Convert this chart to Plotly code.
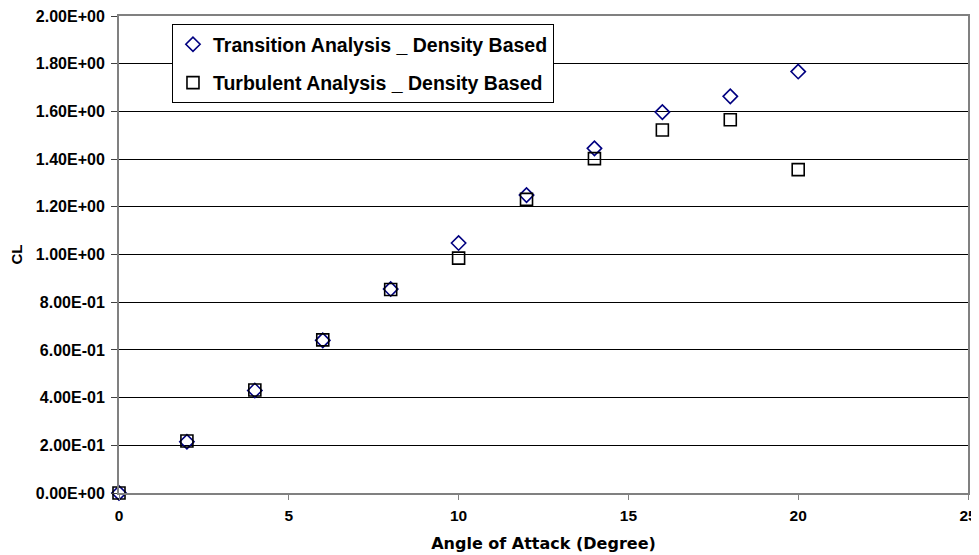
import plotly.graph_objects as go

angle = [0, 2, 4, 6, 8, 10, 12, 14, 16, 18, 20]
cl_transition = [0.0, 0.215, 0.43, 0.64, 0.855, 1.048, 1.249, 1.445, 1.597, 1.663, 1.767]
cl_turbulent = [0.0, 0.218, 0.432, 0.642, 0.853, 0.985, 1.231, 1.402, 1.522, 1.565, 1.356]
y_ticks = [0.0, 0.2, 0.4, 0.6, 0.8, 1.0, 1.2, 1.4, 1.6, 1.8, 2.0]
y_tick_labels = ["0.00E+00", "2.00E-01", "4.00E-01", "6.00E-01", "8.00E-01", "1.00E+00",
                 "1.20E+00", "1.40E+00", "1.60E+00", "1.80E+00", "2.00E+00"]
x_ticks = [0, 5, 10, 15, 20, 25]

fig = go.Figure()
fig.add_trace(go.Scatter(
    x=angle, y=cl_transition, mode="markers", name="Transition Analysis _ Density Based",
    legendgroup="a", cliponaxis=False,
    marker=dict(symbol="diamond-open", size=11, color="#000080", line=dict(width=1.6, color="#000080")),
))
fig.add_trace(go.Scatter(
    x=angle, y=cl_turbulent, mode="markers", name="Turbulent Analysis _ Density Based",
    legendgroup="b", cliponaxis=False,
    marker=dict(symbol="square-open", size=12, color="#000000", line=dict(width=1.6, color="#000000")),
))

font = "Liberation Sans, Arial, sans-serif"
wide = "DejaVu Sans, sans-serif"
fig.update_layout(
    width=971, height=547,
    margin=dict(l=111, r=11, t=8, b=62, autoexpand=False),
    paper_bgcolor="white", plot_bgcolor="white",
    font=dict(family=font, color="black"),
    showlegend=True,
    legend=dict(
        x=0.0624, y=0.983, xanchor="left", yanchor="top",
        bgcolor="white", bordercolor="black", borderwidth=1,
        font=dict(family=font, size=19.5, color="black", weight="bold"),
        traceorder="grouped", tracegroupgap=10,
        entrywidth=355, entrywidthmode="pixels",
    ),
    xaxis=dict(
        range=[0, 25], tickvals=x_ticks, showgrid=False, zeroline=False, automargin=False,
        showline=True, linecolor="#808080", linewidth=2, mirror=True,
        ticks="outside", ticklen=5, tickcolor="#808080", ticklabelstandoff=2,
        ticklabeloverflow="allow",
        tickfont=dict(size=15.5, weight="bold"),
        title=dict(text="Angle of Attack (Degree)", font=dict(family=wide, size=16, weight="bold"), standoff=15),
    ),
    yaxis=dict(
        range=[0, 2.0], tickvals=y_ticks, ticktext=y_tick_labels, automargin=False,
        showgrid=True, gridcolor="#000000", gridwidth=1, zeroline=False,
        showline=True, linecolor="#808080", linewidth=2, mirror=True,
        ticks="outside", ticklen=6, tickcolor="#404040", ticklabelstandoff=3,
        ticklabeloverflow="allow",
        tickfont=dict(size=16, weight="bold"),
        title=dict(text="CL", font=dict(size=15, weight="bold"), standoff=15),
    ),
)

fig.write_html("out.html")
